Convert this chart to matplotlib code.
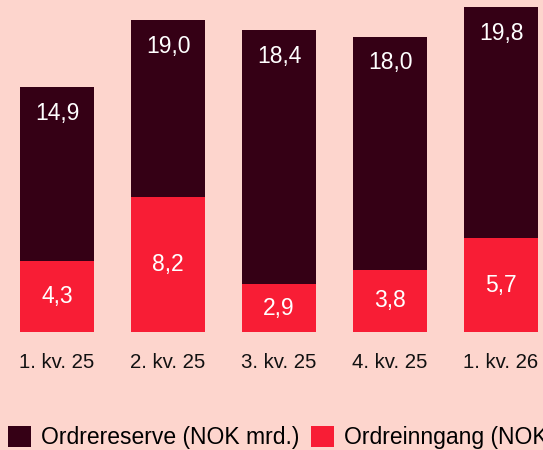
import matplotlib
matplotlib.use("Agg")
import matplotlib.pyplot as plt
from matplotlib.patches import Patch

categories = ["1. kv. 25", "2. kv. 25", "3. kv. 25", "4. kv. 25", "1. kv. 26"]
ordrereserve = [14.9, 19.0, 18.4, 18.0, 19.8]
ordreinngang = [4.3, 8.2, 2.9, 3.8, 5.7]
series_names = ["Ordrereserve (NOK mrd.)", "Ordreinngang (NOK mrd.)"]

BG = "#FDD5CD"
DARK = "#350015"
RED = "#F81D35"

plt.rcParams["font.family"] = ["Liberation Sans", "DejaVu Sans"]

fig = plt.figure(figsize=(5.43, 4.5), dpi=100)
fig.patch.set_facecolor(BG)
ax = fig.add_axes([0, 118 / 450, 1, 332 / 450])
ax.set_facecolor(BG)

x = list(range(len(categories)))
w = 74 / 111
ax.bar(x, ordrereserve, width=w, color=DARK, zorder=2)
ax.bar(x, ordreinngang, width=w, color=RED, zorder=3)

ppu = 16.41
ax.set_xlim(-57 / 111, (543 - 57) / 111)
ax.set_ylim(0, 332 / ppu)

for xi, v in zip(x, ordrereserve):
    ax.text(xi, v - 26 / ppu, f"{v:.1f}".replace(".", ","), ha="center", va="center",
            color="white", fontsize=16.5, zorder=4)
for xi, v in zip(x, ordreinngang):
    ax.text(xi, v / 2, f"{v:.1f}".replace(".", ","), ha="center", va="center",
            color="white", fontsize=16.5, zorder=4)

for s in ax.spines.values():
    s.set_visible(False)
ax.set_yticks([])
ax.set_xticks(x)
ax.set_xticklabels(categories, fontsize=14.7, color="#111111")
ax.tick_params(axis="x", length=0, pad=15)

handles = [Patch(facecolor=DARK), Patch(facecolor=RED)]
fig.legend(handles, series_names, loc="lower left", bbox_to_anchor=(8 / 543, 0.002),
           ncol=2, frameon=False, fontsize=16.5, handlelength=1.0, handleheight=1.0,
           handletextpad=0.44, columnspacing=0.52, borderaxespad=0, borderpad=0)

fig.savefig("out.png", dpi=100, facecolor=BG)
